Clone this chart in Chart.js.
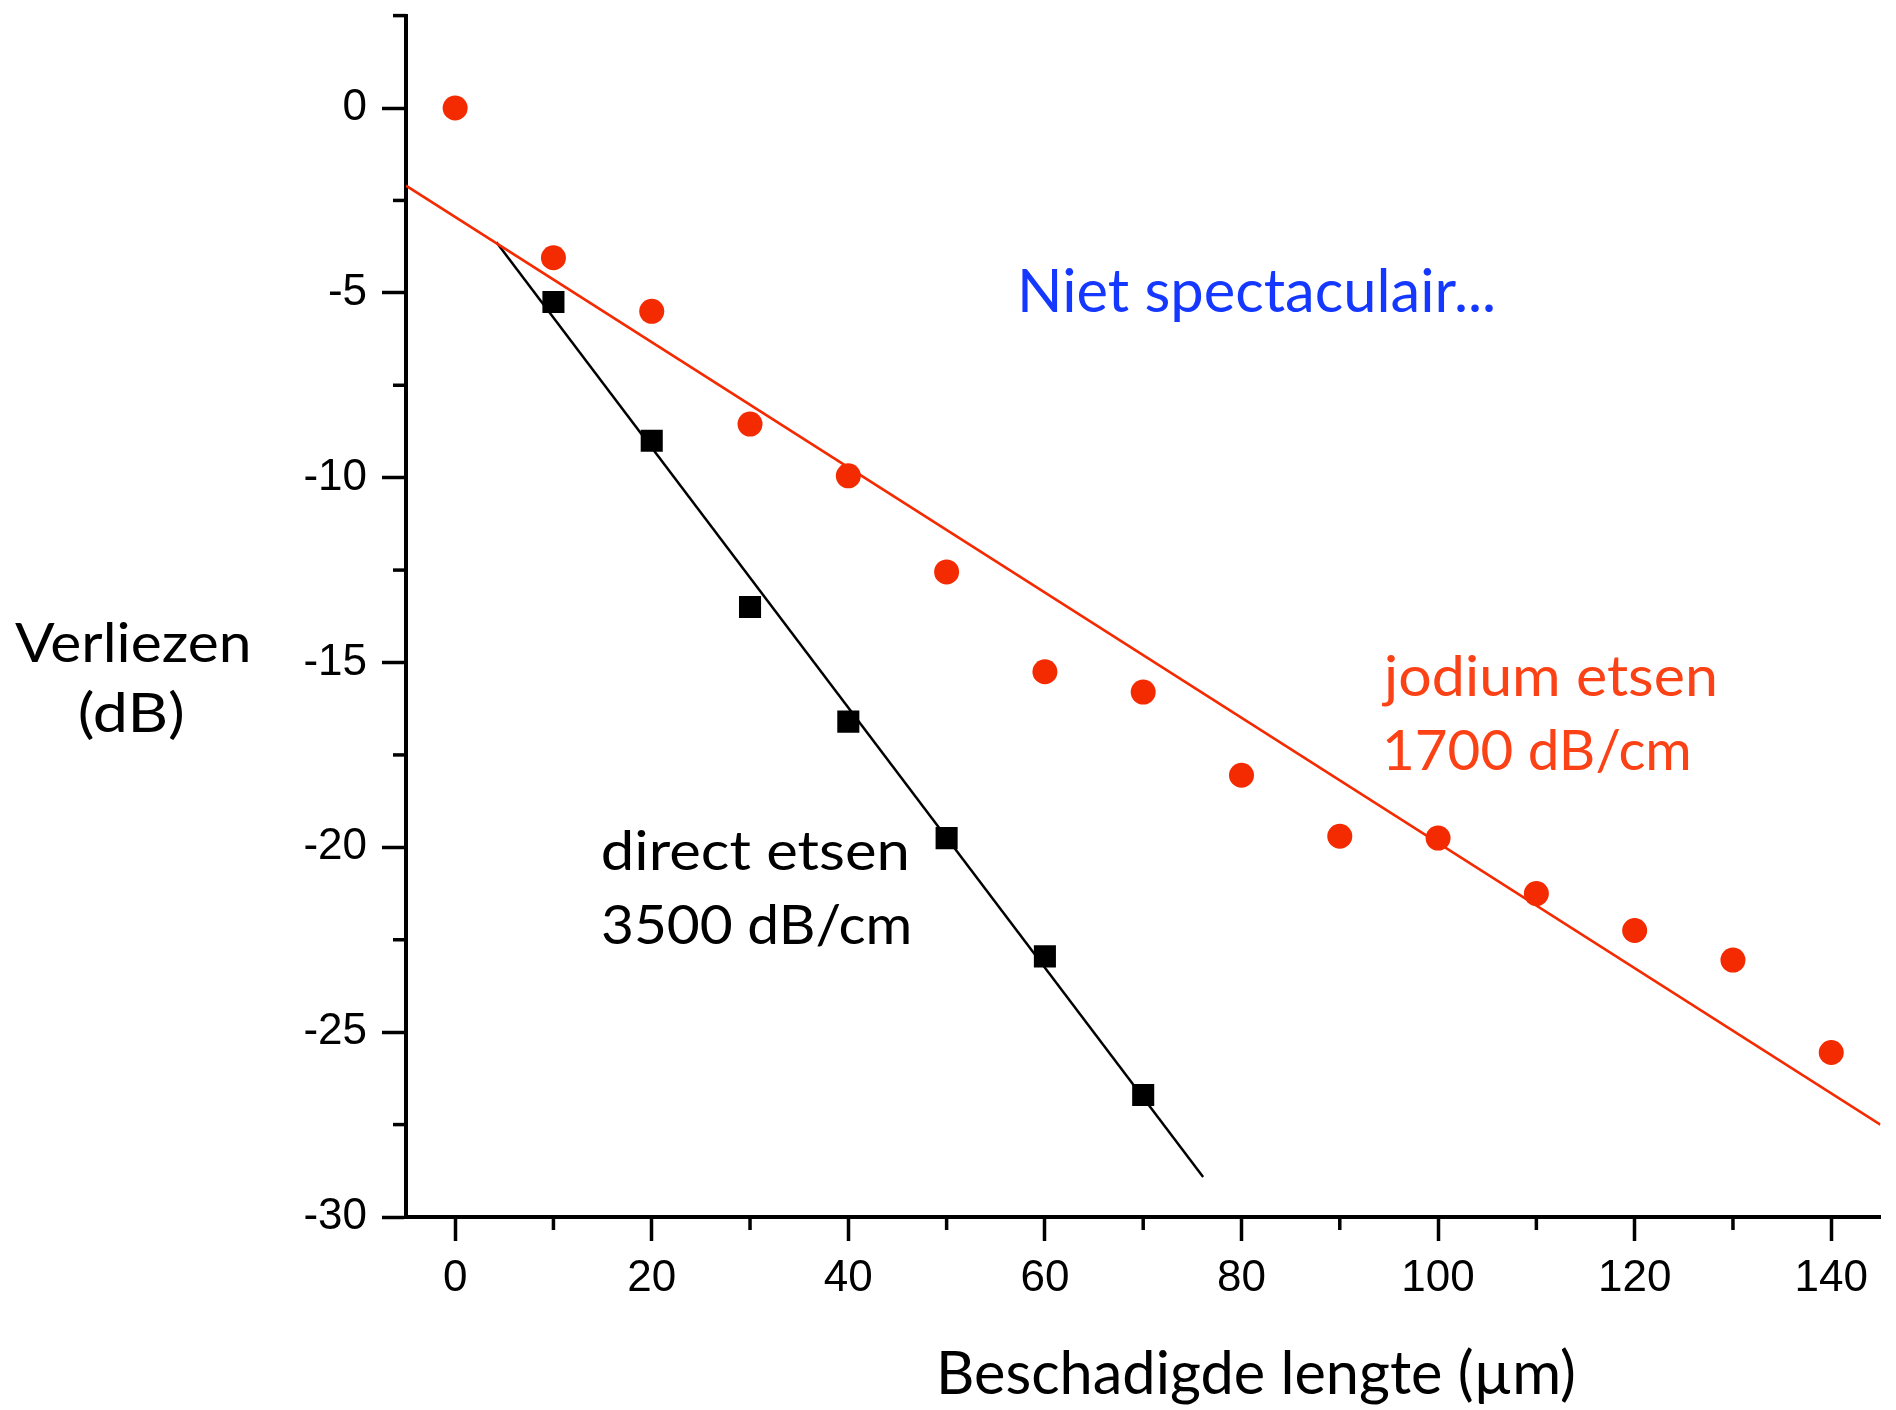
<!DOCTYPE html>
<html>
<head>
<meta charset="utf-8">
<script src="https://cdn.jsdelivr.net/npm/chart.js@4.4.0/dist/chart.umd.min.js"></script>
<style>
  html, body { margin: 0; padding: 0; background: #fff; }
  #wrap { width: 1896px; height: 1410px; position: relative; }
</style>
</head>
<body>
<div id="wrap"><canvas id="lossChart"></canvas></div>
<script>
// damaged length (um)
var jodiumX = [0, 10, 20, 30, 40, 50, 60, 70, 80, 90, 100, 110, 120, 130, 140];
var jodiumY = [0, -4.05, -5.5, -8.55, -9.95, -12.55, -15.25, -15.8, -18.05, -19.7, -19.75, -21.25, -22.25, -23.05, -25.55];
var directX = [10, 20, 30, 40, 50, 60, 70];
var directY = [-5.25, -9.0, -13.5, -16.6, -19.75, -22.95, -26.7];
// fitted lines, end points
var jodiumFitX = [-5, 145];
var jodiumFitY = [-2.1, -27.5];
var directFitX = [4.2, 76.1];
var directFitY = [-3.63, -28.92];
// axis ticks
var xMajorTicks = [0, 20, 40, 60, 80, 100, 120, 140];
var xMinorTicks = [10, 30, 50, 70, 90, 110, 130];
var yMajorTicks = [0, -5, -10, -15, -20, -25, -30];
var yMinorTicks = [2.5, -2.5, -7.5, -12.5, -17.5, -22.5, -27.5];

var red = '#f42a00';
var redText = '#fb4216';

function toPoints(xs, ys) {
  return xs.map(function (x, i) { return { x: x, y: ys[i] }; });
}

// free text on the chart: [text, left, right, baseline, font, colour]
var labels = [
  ['Niet spectaculair...', 1022, 1493, 312, '60px Lato', '#1438ff'],
  ['jodium etsen', 1381, 1715, 696, '57px Lato', redText],
  ['1700 dB/cm', 1386, 1689, 770, '57px Lato', redText],
  ['direct etsen', 603, 907, 870, '55px Lato', '#000'],
  ['3500 dB/cm', 603, 909, 944, '55px Lato', '#000'],
  ['Verliezen', 15, 248, 662, '54px Lato', '#000'],
  ['(dB)', 80, 182, 732, '54px Lato', '#000'],
  ['Beschadigde lengte (\u00b5m)', 941, 1574, 1394, '60px Lato', '#000']
];

function drawFitted(ctx, l) {
  ctx.save();
  ctx.font = l[4];
  var m = ctx.measureText(l[0]);
  var inkW = m.actualBoundingBoxLeft + m.actualBoundingBoxRight;
  var s = (l[2] - l[1]) / inkW;
  ctx.translate(l[1], l[3]);
  ctx.scale(s, 1);
  ctx.fillStyle = l[5];
  ctx.textAlign = 'left';
  ctx.textBaseline = 'alphabetic';
  ctx.fillText(l[0], m.actualBoundingBoxLeft, 0);
  ctx.restore();
}

var extrasPlugin = {
  id: 'extras',
  afterDraw: function (chart) {
    var ctx = chart.ctx;
    var xs = chart.scales.x, ys = chart.scales.y;
    var area = chart.chartArea;
    ctx.save();
    ctx.strokeStyle = '#000';
    ctx.lineWidth = 3.5;
    // minor ticks
    xMinorTicks.forEach(function (v) {
      var px = xs.getPixelForValue(v);
      ctx.beginPath(); ctx.moveTo(px, area.bottom); ctx.lineTo(px, area.bottom + 13); ctx.stroke();
    });
    yMinorTicks.forEach(function (v) {
      var py = ys.getPixelForValue(v);
      ctx.beginPath(); ctx.moveTo(area.left, py); ctx.lineTo(area.left - 13, py); ctx.stroke();
    });
    ctx.restore();
    labels.forEach(function (l) { drawFitted(ctx, l); });
  }
};

var ctx = document.getElementById('lossChart').getContext('2d');
var chart = new Chart(ctx, {
  type: 'scatter',
  data: {
    datasets: [
      {
        label: 'jodium etsen',
        data: toPoints(jodiumX, jodiumY),
        pointStyle: 'circle',
        pointRadius: 12.5,
        pointBackgroundColor: red,
        pointBorderWidth: 0,
        showLine: false
      },
      {
        label: 'direct etsen',
        data: toPoints(directX, directY),
        pointStyle: 'rect',
        pointRadius: 15.6,
        pointBackgroundColor: '#000',
        pointBorderWidth: 0,
        showLine: false
      },
      {
        label: 'fit jodium',
        data: toPoints(jodiumFitX, jodiumFitY),
        showLine: true,
        borderColor: red,
        borderWidth: 2.5,
        pointRadius: 0
      },
      {
        label: 'fit direct',
        data: toPoints(directFitX, directFitY),
        showLine: true,
        borderColor: '#000',
        borderWidth: 2.5,
        pointRadius: 0
      }
    ]
  },
  options: {
    responsive: true,
    maintainAspectRatio: false,
    animation: false,
    layout: { padding: { top: 14, right: 11, left: 0, bottom: 0 } },
    plugins: {
      legend: { display: false },
      tooltip: { enabled: false }
    },
    scales: {
      x: {
        type: 'linear',
        min: -5,
        max: 145,
        afterBuildTicks: function (scale) {
          scale.ticks = xMajorTicks.map(function (v) { return { value: v }; });
        },
        afterFit: function (scale) {
          scale.height = 193;
          scale.paddingLeft = 0;
          scale.paddingRight = 0;
        },
        border: { display: true, color: '#000', width: 4 },
        grid: { drawOnChartArea: false, drawTicks: true, tickLength: 24, tickWidth: 3.5, tickColor: '#000' },
        ticks: {
          color: '#000',
          padding: 11,
          maxRotation: 0,
          font: { family: 'Liberation Sans', size: 44 }
        }
      },
      y: {
        type: 'linear',
        min: -30,
        max: 2.5,
        afterBuildTicks: function (scale) {
          scale.ticks = yMajorTicks.map(function (v) { return { value: v }; });
        },
        afterFit: function (scale) {
          scale.width = 406;
          scale.paddingTop = 0;
          scale.paddingBottom = 0;
        },
        border: { display: true, color: '#000', width: 4 },
        grid: { drawOnChartArea: false, drawTicks: true, tickLength: 24, tickWidth: 3.5, tickColor: '#000' },
        ticks: {
          color: '#000',
          padding: 15,
          font: { family: 'Liberation Sans', size: 44 }
        }
      }
    }
  },
  plugins: [extrasPlugin]
});
</script>
</body>
</html>
